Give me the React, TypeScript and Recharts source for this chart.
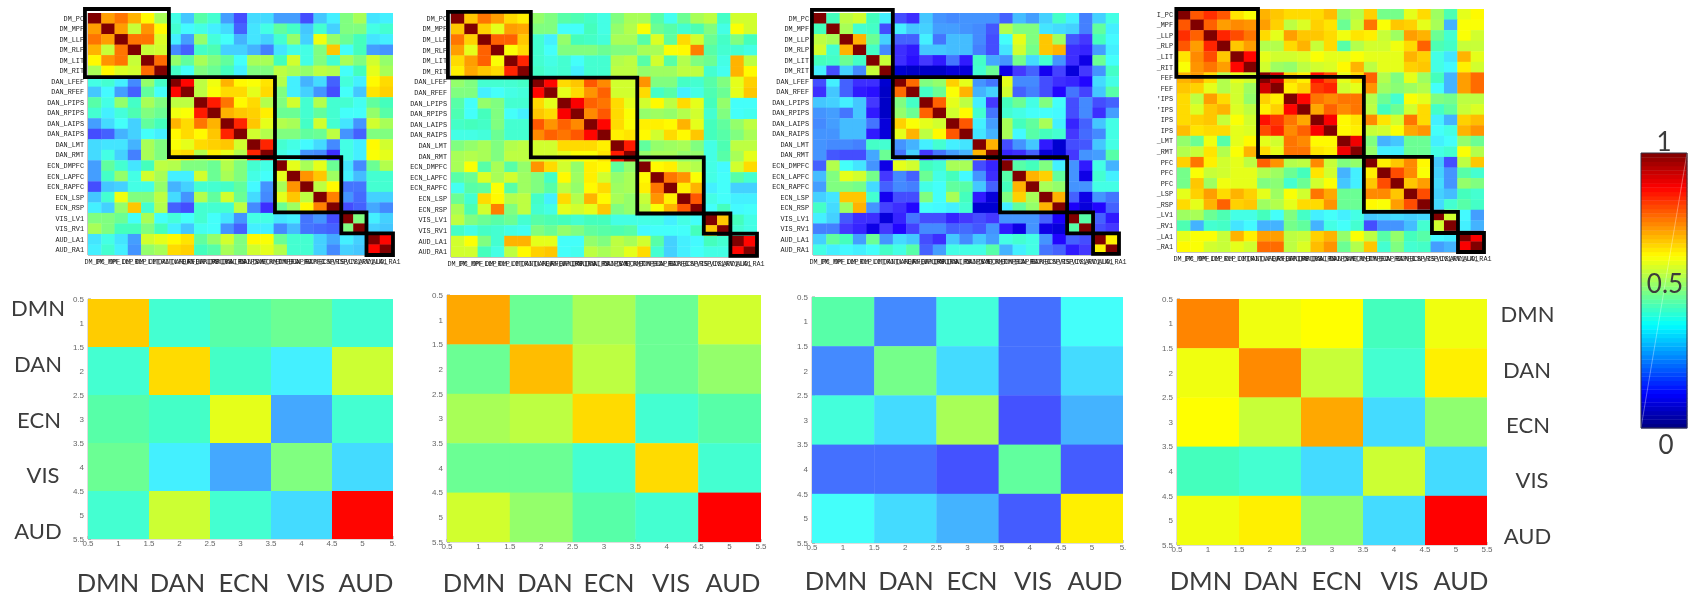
import { ScatterChart, Scatter, XAxis, YAxis, ReferenceArea, ReferenceLine } from "recharts";

const ROIS = ["DM_PC", "DM_MPF", "DM_LLP", "DM_RLP", "DM_LIT", "DM_RIT", "DAN_LFEF", "DAN_RFEF", "DAN_LPIPS", "DAN_RPIPS", "DAN_LAIPS", "DAN_RAIPS", "DAN_LMT", "DAN_RMT", "ECN_DMPFC", "ECN_LAPFC", "ECN_RAPFC", "ECN_LSP", "ECN_RSP", "VIS_LV1", "VIS_RV1", "AUD_LA1", "AUD_RA1"];
// the fourth panel's labels are cut off on the left in the source figure
const ROIS_CUT = ["I_PC", "_MPF", "_LLP", "_RLP", "_LIT", "_RIT", "FEF", "FEF", "'IPS", "'IPS", "IPS", "IPS", "_LMT", "_RMT", "PFC", "PFC", "PFC", "_LSP", "_RSP", "_LV1", "_RV1", "_LA1", "_RA1"];
const NETWORKS = ["DMN", "DAN", "ECN", "VIS", "AUD"];
const NET_TICKS = [0.5, 1, 1.5, 2, 2.5, 3, 3.5, 4, 4.5, 5, 5.5];
const ROI_TICKS = ROIS.map((_, i) => i + 1);
const BAR_TICKS = [0, 0.1, 0.2, 0.3, 0.4, 0.5, 0.6, 0.7, 0.8, 0.9, 1];

// upper triangles, each row starts on the diagonal
const roiA = [
  [1, .72, .76, .70, .63, .54, .40, .32, .46, .42, .28, .20, .34, .34, .28, .28, .20, .32, .36, .50, .54, .35, .36],
  [1, .72, .57, .73, .63, .42, .37, .40, .36, .34, .22, .35, .40, .47, .43, .32, .42, .33, .50, .50, .40, .42],
  [1, .76, .76, .59, .36, .28, .52, .41, .38, .30, .35, .33, .42, .52, .33, .61, .52, .48, .44, .35, .36],
  [1, .57, .58, .26, .22, .43, .45, .33, .33, .30, .25, .35, .40, .40, .50, .68, .38, .44, .28, .27],
  [1, .77, .52, .47, .54, .50, .47, .38, .54, .54, .44, .58, .40, .50, .42, .54, .50, .58, .52],
  [1, .43, .38, .50, .48, .44, .36, .50, .50, .56, .54, .52, .56, .55, .38, .44, .60, .54],
  [1, .87, .56, .61, .70, .63, .62, .65, .55, .36, .30, .34, .22, .41, .36, .63, .66],
  [1, .56, .62, .66, .66, .60, .66, .50, .36, .33, .27, .20, .38, .32, .65, .67],
  [1, .85, .76, .63, .66, .55, .50, .58, .42, .55, .42, .42, .39, .47, .44],
  [1, .70, .68, .67, .64, .48, .48, .42, .47, .42, .38, .38, .52, .46],
  [1, .84, .68, .60, .55, .54, .43, .58, .42, .35, .27, .58, .54],
  [1, .58, .55, .50, .50, .47, .48, .56, .27, .22, .50, .50],
  [1, .84, .42, .40, .37, .34, .26, .40, .36, .63, .58],
  [1, .40, .38, .27, .26, .17, .40, .36, .62, .60],
  [1, .60, .54, .60, .48, .35, .26, .48, .55],
  [1, .73, .68, .53, .36, .31, .42, .42],
  [1, .56, .63, .24, .24, .42, .42],
  [1, .75, .27, .23, .33, .33],
  [1, .20, .22, .29, .26],
  [1, .50, .36, .33],
  [1, .33, .32],
  [1, .87],
  [1],
];

const roiB = [
  [1, .68, .76, .72, .66, .64, .52, .50, .46, .45, .43, .40, .50, .54, .54, .46, .39, .48, .54, .56, .43, .58, .58],
  [1, .67, .60, .72, .71, .50, .50, .38, .38, .44, .40, .52, .55, .62, .48, .46, .42, .45, .50, .40, .62, .58],
  [1, .78, .78, .68, .42, .36, .52, .44, .43, .41, .54, .54, .46, .59, .47, .66, .58, .48, .43, .50, .44],
  [1, .62, .66, .42, .38, .50, .50, .50, .48, .50, .50, .54, .54, .62, .63, .75, .46, .42, .42, .40],
  [1, .84, .42, .40, .42, .38, .42, .42, .55, .56, .46, .58, .46, .55, .50, .48, .40, .70, .56],
  [1, .43, .41, .42, .36, .42, .42, .56, .56, .52, .53, .53, .56, .56, .42, .39, .70, .63],
  [1, .87, .66, .68, .79, .74, .58, .58, .73, .50, .50, .43, .42, .46, .50, .60, .67],
  [1, .60, .66, .73, .78, .58, .58, .66, .43, .46, .36, .40, .45, .48, .60, .68],
  [1, .88, .78, .76, .66, .60, .58, .63, .56, .66, .60, .44, .52, .38, .38],
  [1, .74, .79, .66, .62, .52, .53, .52, .55, .58, .42, .50, .38, .39],
  [1, .87, .66, .62, .64, .64, .63, .70, .60, .44, .47, .52, .56],
  [1, .64, .65, .63, .58, .66, .63, .68, .44, .46, .50, .54],
  [1, .85, .47, .52, .53, .54, .50, .40, .45, .56, .56],
  [1, .52, .54, .54, .52, .52, .40, .46, .54, .60],
  [1, .63, .64, .57, .55, .40, .37, .58, .66],
  [1, .76, .73, .62, .40, .38, .46, .42],
  [1, .64, .70, .36, .38, .33, .33],
  [1, .79, .40, .38, .36, .36],
  [1, .38, .44, .37, .38],
  [1, .68, .44, .40],
  [1, .42, .40],
  [1, .87],
  [1],
];

const roiC = [
  [1, .44, .56, .58, .44, .36, .20, .17, .32, .27, .26, .27, .27, .27, .22, .31, .28, .33, .43, .36, .25, .33, .40],
  [1, .54, .42, .43, .20, .36, .32, .33, .28, .28, .27, .26, .21, .55, .50, .50, .35, .34, .33, .25, .47, .36],
  [1, .70, .48, .33, .22, .22, .36, .24, .31, .31, .26, .20, .38, .60, .50, .68, .53, .21, .18, .44, .37],
  [1, .43, .26, .17, .15, .32, .32, .31, .31, .25, .20, .35, .58, .49, .68, .70, .17, .16, .28, .36],
  [1, .57, .17, .14, .18, .15, .24, .15, .43, .29, .27, .49, .34, .42, .27, .17, .10, .48, .38],
  [1, .08, .07, .07, .07, .09, .09, .42, .48, .10, .18, .22, .11, .19, .09, .18, .27, .43],
  [1, .77, .50, .52, .67, .60, .27, .24, .60, .26, .26, .20, .17, .16, .13, .34, .40],
  [1, .43, .48, .62, .70, .30, .33, .58, .22, .25, .20, .13, .24, .19, .32, .46],
  [1, .78, .60, .56, .36, .18, .44, .48, .40, .50, .38, .20, .26, .20, .22],
  [1, .58, .63, .42, .24, .42, .40, .38, .38, .37, .20, .26, .17, .28],
  [1, .79, .36, .28, .54, .44, .47, .54, .36, .16, .22, .32, .40],
  [1, .35, .30, .54, .37, .46, .44, .42, .18, .23, .26, .40],
  [1, .70, .20, .27, .32, .15, .08, .20, .21, .32, .40],
  [1, .16, .17, .22, .09, .08, .18, .27, .28, .46],
  [1, .46, .44, .50, .36, .27, .15, .40, .30],
  [1, .70, .67, .47, .27, .10, .42, .36],
  [1, .54, .52, .27, .27, .40, .40],
  [1, .70, .22, .10, .27, .24],
  [1, .12, .09, .13, .22],
  [1, .46, .22, .15],
  [1, .20, .18],
  [1, .64],
  [1],
];

const roiD = [
  [1, .79, .83, .79, .65, .62, .70, .68, .66, .66, .66, .69, .52, .55, .67, .49, .49, .60, .66, .53, .45, .60, .63],
  [1, .78, .72, .74, .73, .72, .67, .56, .59, .67, .65, .48, .57, .76, .62, .68, .67, .60, .54, .30, .62, .62],
  [1, .84, .80, .76, .66, .60, .72, .68, .68, .66, .61, .65, .64, .57, .53, .72, .70, .48, .42, .62, .58],
  [1, .68, .72, .55, .55, .66, .70, .57, .66, .46, .55, .58, .58, .61, .66, .78, .45, .43, .57, .57],
  [1, .87, .60, .58, .58, .59, .62, .60, .60, .62, .60, .60, .60, .70, .67, .40, .35, .70, .60],
  [1, .58, .53, .52, .56, .58, .59, .63, .70, .56, .60, .60, .67, .68, .40, .37, .64, .58],
  [1, .92, .67, .64, .86, .80, .60, .66, .78, .55, .50, .60, .53, .44, .30, .72, .77],
  [1, .64, .67, .82, .84, .58, .60, .73, .53, .51, .53, .55, .38, .30, .72, .77],
  [1, .87, .76, .74, .76, .76, .55, .48, .42, .62, .60, .50, .49, .56, .56],
  [1, .71, .78, .74, .76, .56, .44, .48, .58, .66, .43, .47, .57, .59],
  [1, .88, .63, .65, .74, .65, .58, .76, .66, .36, .30, .67, .69],
  [1, .63, .64, .57, .58, .62, .71, .73, .38, .40, .70, .73],
  [1, .89, .50, .30, .32, .48, .48, .36, .38, .52, .48],
  [1, .52, .36, .36, .48, .48, .40, .42, .62, .55],
  [1, .64, .68, .74, .63, .32, .20, .56, .68],
  [1, .80, .74, .62, .33, .27, .46, .42],
  [1, .68, .72, .34, .27, .52, .50],
  [1, .80, .33, .31, .44, .42],
  [1, .34, .42, .46, .43],
  [1, .58, .37, .28],
  [1, .36, .30],
  [1, .88],
  [1],
];

const netA = [
  [.675, .42, .46, .48, .42],
  [.42, .66, .43, .36, .575],
  [.46, .43, .60, .29, .42],
  [.48, .36, .29, .50, .34],
  [.42, .575, .42, .34, .87],
];
const netB = [
  [.71, .48, .54, .48, .58],
  [.48, .69, .56, .48, .52],
  [.54, .56, .66, .42, .46],
  [.48, .48, .42, .66, .42],
  [.58, .52, .46, .42, .875],
];
const netC = [
  [.46, .26, .41, .235, .38],
  [.26, .49, .34, .235, .34],
  [.41, .34, .54, .205, .30],
  [.235, .235, .205, .47, .215],
  [.38, .34, .30, .215, .64],
];
const netD = [
  [.745, .61, .625, .44, .61],
  [.61, .74, .57, .42, .64],
  [.625, .57, .71, .34, .515],
  [.44, .42, .34, .575, .34],
  [.61, .64, .515, .34, .875],
];

const clip01 = (x: number) => Math.max(0, Math.min(1, x));

function jet(v: number) {
  const ch = (c: number) => 255 * clip01(1.5 - Math.abs(4 * v - c));
  return [ch(3), ch(2), ch(1)];
}

// the heatmaps in the figure were screen-captured, their blues and cyans are washed out
function washed(v: number) {
  const [r, g, b] = jet(v);
  const floor = 68 * clip01((v - 0.08) / 0.1);
  return `rgb(${Math.round(Math.max(r, v < 0.5 ? floor : 0))},${Math.round(g)},${Math.round(b)})`;
}

function pure(v: number) {
  const [r, g, b] = jet(v);
  return `rgb(${Math.round(r)},${Math.round(g)},${Math.round(b)})`;
}

function fromUpper(upper: number[][]) {
  const cells: { x: number; y: number; v: number }[] = [];
  upper.forEach((row, i) =>
    row.forEach((v, k) => {
      const j = i + k;
      cells.push({ x: j + 1, y: i + 1, v });
      if (k > 0) cells.push({ x: i + 1, y: j + 1, v });
    })
  );
  return cells;
}

function fromFull(rows: number[][]) {
  return rows.flatMap((row, i) => row.map((v, j) => ({ x: j + 1, y: i + 1, v })));
}

function cellShape(w: number, h: number, color: (v: number) => string) {
  return (props: any) => (
    <rect x={props.cx - w / 2} y={props.cy - h / 2} width={w + 0.4} height={h + 0.4} fill={color(props.payload.v)} />
  );
}

type PanelProps = {
  cells: { x: number; y: number; v: number }[];
  n: number;
  plot: number[]; // left, top, right, bottom in page pixels
  ticks: number[];
  fmtX: (t: number) => string;
  fmtY: (t: number) => string;
  font: any;
  axisColor: string;
  boxes?: number[][];
  gutter: number;
  xMargin: number;
  padRight: number;
};

function Panel({ cells, n, plot, ticks, fmtX, fmtY, font, axisColor, boxes, gutter, xMargin, padRight }: PanelProps) {
  const [l, t, r, b] = plot;
  const w = r - l;
  const h = b - t;
  const pad = 6;
  const domain = [0.5, n + 0.5];
  const tickLine = { stroke: "#555", strokeWidth: 0.6 };
  return (
    <div style={{ position: "absolute", left: l - gutter, top: t - pad, filter: "blur(0.55px)" }}>
      <ScatterChart
        width={w + gutter + padRight}
        height={h + pad + 22}
        margin={{ top: pad, right: padRight, bottom: 0, left: 0 }}
      >
        <XAxis type="number" dataKey="x" xAxisId="b" domain={domain} ticks={ticks} interval={0} height={22}
          tickSize={-3} tickMargin={xMargin} tick={font} tickLine={tickLine} stroke={axisColor} tickFormatter={fmtX} allowDataOverflow />
        <XAxis type="number" xAxisId="t" orientation="top" domain={domain} ticks={ticks} interval={0} height={0}
          tickSize={-3} tickMargin={0} tick={font} tickLine={tickLine} stroke={axisColor} tickFormatter={() => ""} allowDataOverflow />
        <YAxis type="number" dataKey="y" yAxisId="l" reversed domain={domain} ticks={ticks} interval={0} width={gutter}
          tickSize={-3} tickMargin={7} tick={font} tickLine={tickLine} stroke={axisColor} tickFormatter={fmtY} allowDataOverflow />
        <YAxis type="number" yAxisId="r" orientation="right" reversed domain={domain} ticks={ticks} interval={0} width={0}
          tickSize={-3} tickMargin={0} tick={font} tickLine={tickLine} stroke={axisColor} tickFormatter={() => ""} allowDataOverflow />
        <Scatter data={cells} xAxisId="b" yAxisId="l" isAnimationActive={false} shape={cellShape(w / n, h / n, washed)} />
        {boxes?.map((box, i) => (
          <ReferenceArea key={i} xAxisId="b" yAxisId="l" x1={box[0]} x2={box[1]} y1={box[2]} y2={box[3]}
            fill="none" fillOpacity={0} stroke="#000" strokeWidth={3.8} ifOverflow="visible" zIndex={1000} />
        ))}
      </ScatterChart>
    </div>
  );
}

const roiFont = { fontFamily: "'Liberation Mono'", fontSize: 6.8, fill: "#1c1c1c" };
const netFont = { fontFamily: "'Liberation Sans'", fontSize: 8, fill: "#666" };

function RoiPanel({ upper, plot, boxes, yLabels }: { upper: number[][]; plot: number[]; boxes: number[][]; yLabels: string[] }) {
  return (
    <Panel cells={fromUpper(upper)} n={23} plot={plot} ticks={ROI_TICKS} boxes={boxes} gutter={46} xMargin={7} padRight={18}
      fmtX={(t) => ROIS[t - 1]} fmtY={(t) => yLabels[t - 1]} font={roiFont} axisColor="#888" />
  );
}

function NetPanel({ rows, plot, cutLast }: { rows: number[][]; plot: number[]; cutLast?: boolean }) {
  const fmt = (t: number) => String(t);
  return (
    <Panel cells={fromFull(rows)} n={5} plot={plot} ticks={NET_TICKS} gutter={22} xMargin={4} padRight={8}
      fmtX={(t) => (cutLast && t === 5.5 ? "5." : fmt(t))} fmtY={fmt} font={netFont} axisColor="#bbb" />
  );
}

const BAR_LEVELS = Array.from({ length: 64 }, (_, i) => ({ x: 1, y: (i + 0.5) / 64, v: (i + 0.5) / 64 }));

function ColorBar() {
  const plot = { l: 1641, t: 153, w: 46, h: 275 };
  return (
    <div style={{ position: "absolute", left: plot.l - 1, top: plot.t - 1, filter: "blur(0.4px)" }}>
      <ScatterChart width={plot.w + 2} height={plot.h + 2} margin={{ top: 1, right: 1, bottom: 1, left: 1 }}>
        <XAxis type="number" dataKey="x" domain={[0.5, 1.5]} hide />
        <YAxis type="number" dataKey="y" orientation="right" domain={[0, 1]} ticks={BAR_TICKS} interval={0} width={0}
          tickSize={-8} tickMargin={0} tick={false} tickLine={{ stroke: "#333", strokeWidth: 1 }} axisLine={false} />
        <Scatter data={BAR_LEVELS} isAnimationActive={false} shape={cellShape(plot.w, plot.h / 64, pure)} />
        <ReferenceLine segment={[{ x: 0.5, y: 0 }, { x: 1.5, y: 1 }]} stroke="#fff" strokeOpacity={0.35} ifOverflow="visible" zIndex={1000} />
        <ReferenceArea x1={0.5} x2={1.5} y1={0} y2={1} fill="none" fillOpacity={0} stroke="#334" strokeWidth={1} ifOverflow="visible" zIndex={1000} />
      </ScatterChart>
    </div>
  );
}

const BOTTOM_X = [
  [108, 177.5, 244, 306, 366],
  [474, 545, 609, 671, 733],
  [836, 906, 972, 1033, 1095],
  [1201, 1271, 1337, 1399.5, 1461],
];
const BOTTOM_Y = [582, 582, 580, 580];
const LEFT_X = [38, 38, 39, 43, 38];
const LEFT_Y = [308, 364, 420, 475, 531];
const RIGHT_X = [1527.5, 1527, 1528, 1532, 1527.5];
const RIGHT_Y = [314, 370, 425, 480, 536];

function Word({ x, y, children, size = 25.5 }: { x: number; y: number; children: string; size?: number }) {
  return (
    <div style={{
      position: "absolute", left: x, top: y, transform: "translate(-50%, -50%)", fontFamily: "Lato", fontSize: size,
      color: "#3c3c3c", lineHeight: 0.8, whiteSpace: "nowrap", filter: "blur(0.6px)",
    }}>
      {children}
    </div>
  );
}

export default function App() {
  return (
    <div style={{ position: "absolute", left: 0, top: 0, width: 1688, height: 594, overflow: "hidden", background: "#fff" }}>
      <RoiPanel upper={roiA} plot={[88, 13, 393, 255]} yLabels={ROIS} boxes={[
        [0.27, 6.6, 0.12, 6.6], [6.6, 14.6, 6.6, 14.2], [14.6, 19.6, 14.2, 19.45], [19.6, 21.5, 19.45, 21.45], [21.5, 23.5, 21.45, 23.5],
      ]} />
      <RoiPanel upper={roiB} plot={[451, 13, 757, 257]} yLabels={ROIS} boxes={[
        [0.27, 6.5, 0.4, 6.6], [6.5, 14.5, 6.6, 14.1], [14.5, 19.5, 14.1, 19.4], [19.5, 21.5, 19.4, 21.3], [21.5, 23.5, 21.3, 23.4],
      ]} />
      <RoiPanel upper={roiC} plot={[813, 13, 1119, 255]} yLabels={ROIS} boxes={[
        [0.42, 6.5, 0.2, 6.6], [6.5, 14.56, 6.6, 14.2], [14.56, 19.6, 14.2, 19.45], [19.6, 21.55, 19.45, 21.45], [21.55, 23.5, 21.45, 23.4],
      ]} />
      <RoiPanel upper={roiD} plot={[1177, 9, 1484, 252]} yLabels={ROIS_CUT} boxes={[
        [0.45, 6.57, 0.5, 6.93], [6.57, 14.5, 6.93, 14.5], [14.5, 19.6, 14.5, 19.7], [19.6, 21.55, 19.7, 21.7], [21.55, 23.5, 21.7, 23.5],
      ]} />

      <NetPanel rows={netA} plot={[88, 299, 393, 539]} cutLast />
      <NetPanel rows={netB} plot={[447, 295, 761, 542]} />
      <NetPanel rows={netC} plot={[812, 297, 1123, 543]} cutLast />
      <NetPanel rows={netD} plot={[1177, 299, 1487, 545]} />

      {BOTTOM_X.map((xs, p) => xs.map((x, i) => <Word key={`b${p}${i}`} x={x} y={BOTTOM_Y[p]}>{NETWORKS[i]}</Word>))}
      {LEFT_X.map((x, i) => <Word key={`l${i}`} x={x} y={LEFT_Y[i]} size={22}>{NETWORKS[i]}</Word>)}
      {RIGHT_X.map((x, i) => <Word key={`r${i}`} x={x} y={RIGHT_Y[i]} size={22}>{NETWORKS[i]}</Word>)}

      <ColorBar />
      <Word x={1664} y={141} size={26}>1</Word>
      <Word x={1665} y={283} size={26}>0.5</Word>
      <Word x={1666} y={444} size={26}>0</Word>
    </div>
  );
}
